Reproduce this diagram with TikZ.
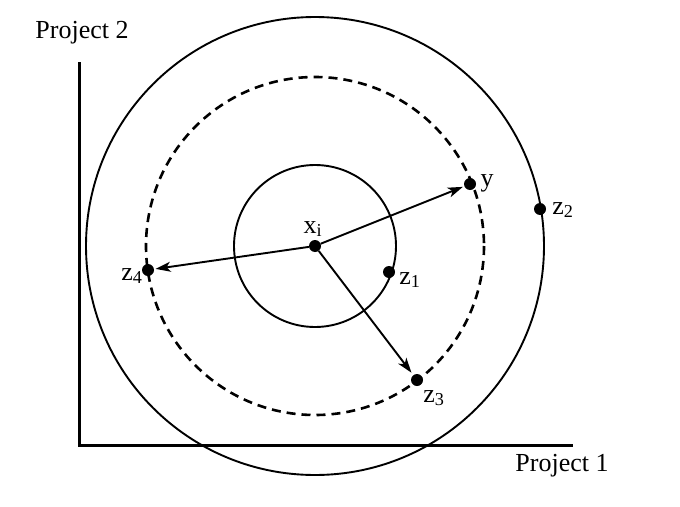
\documentclass[tikz,border=0pt]{standalone}
\usepackage{fontspec}
\setmainfont{Liberation Serif}
\usetikzlibrary{arrows.meta}
\begin{document}
\begin{tikzpicture}[x=1pt, y=-1pt, >={Stealth[length=15pt,width=10pt,inset=4pt]},
    dot/.style={circle, fill=black, inner sep=0pt, minimum size=12pt},
    lab/.style={font=\fontsize{26}{30}\selectfont, inner sep=0pt},
    ring/.style={line width=1.9pt},
    link/.style={->, line width=1.9pt, shorten >=1.5pt}]
        \useasboundingbox (0,0) rectangle (680,506);

        % Axes
        \coordinate (top) at (79,62);
        \coordinate (origin) at (79,445);
        \coordinate (right) at (573,445);
        \draw[line width=3pt] (top) -- (origin) -- (right);
        \node[lab] (proj2) at (82,33) {Project 2};
        \node[lab] (proj1) at (562,466) {Project 1};

        % Points
        \node[dot] (xi) at (315,246) {};
        \node[dot] (y) at (470,184) {};
        \node[dot] (zone) at (389,272) {};
        \node[dot] (ztwo) at (540,209) {};
        \node[dot] (zthree) at (417,380) {};
        \node[dot] (zfour) at (148,270) {};

        % Circles round x_i
        \draw[ring] (xi) circle[radius=81];
        \draw[ring, dashed, line width=2.6pt, dash pattern=on 9pt off 6pt] (xi) circle[radius=169];
        \draw[ring] (xi) circle[radius=229];

        % Moves
        \draw[link] (xi) -- (y);
        \draw[link] (xi) -- (zfour);
        \draw[link, shorten >=3pt] (xi) -- (zthree);

        % Labels
        \node[lab] (xilab) at (313,229) {x\textsubscript{i}};
        \node[lab] (ylab) at (487,183) {y};
        \node[lab] (zonelab) at (410,280) {z\textsubscript{1}};
        \node[lab] (ztwolab) at (563,210) {z\textsubscript{2}};
        \node[lab] (zthreelab) at (434,398) {z\textsubscript{3}};
        \node[lab] (zfourlab) at (132,276) {z\textsubscript{4}};
\end{tikzpicture}
\end{document}
